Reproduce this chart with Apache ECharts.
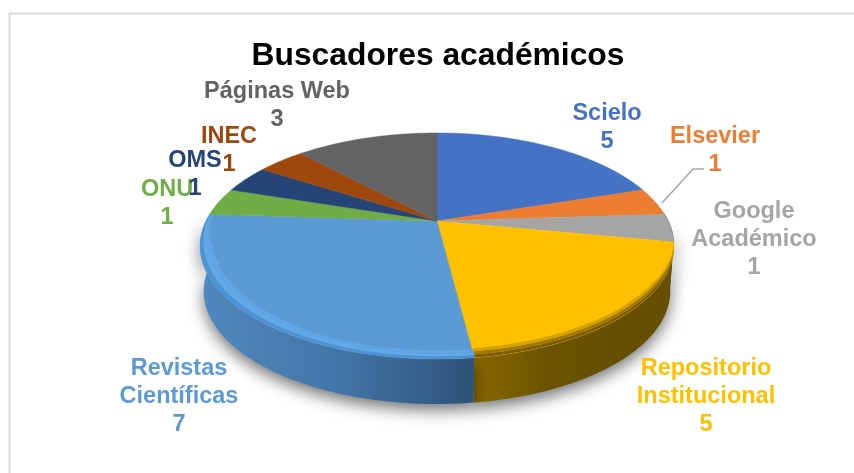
<!DOCTYPE html>
<html>
<head>
<meta charset="utf-8">
<script src="https://cdn.jsdelivr.net/npm/echarts@6/dist/echarts.min.js"></script>
<style>
  html, body { margin: 0; padding: 0; background: #fff; }
  #pie3d { width: 854px; height: 473px; }
</style>
</head>
<body>
<div id="pie3d"></div>
<script>
const chartTitle = "Buscadores académicos";
const names = ["Scielo", "Elsevier", "Google\nAcadémico", "Repositorio\nInstitucional", "Revistas\nCientíficas", "ONU", "OMS", "INEC", "Páginas Web"];
const values = [5, 1, 1, 5, 7, 1, 1, 1, 3];

const colors = ["#4472c4", "#ed7d31", "#a5a5a5", "#ffc000", "#5b9bd5", "#70ad47", "#264478", "#9e480e", "#636363"];
// label centres, excel put them by hand so no rule here
const labelSpots = [[607, 128], [715, 151], [754, 240], [706, 397], [179, 397], [167, 204], [195, 175], [229, 151], [277, 106]];
// side wall gradient, left to right
const wallColors = {
  2: ["#5a5a5a", "#5a5a5a"],
  3: ["#8a6800", "#6c5400", "#665000", "#665000"],
  4: ["#5088bf", "#4376a8", "#2e5279"],
};
// bands of the bevel on the front edge, outer to inner
const rimColors = {
  2: ["#5f6570", "#8b8c90"],
  3: ["#7a5c00", "#a07a00", "#d6a200"],
  4: ["#4f93d2", "#62a9ea", "#60a5e4"],
};

// flattened circle seen in perspective, back edge shorter than front edge
const cx = 437, cy = 221, sx = 231, sy = 107.5, persp = 0.221, depth = 45;
const total = values.reduce((a, b) => a + b, 0);

function project(deg) {
  const t = deg * Math.PI / 180;
  const d = 1 + persp * Math.cos(t);
  return [cx + sx * Math.sin(t) / d, cy - sy * Math.cos(t) / d];
}
function angles(from, to) {
  const list = [];
  const n = Math.max(2, Math.ceil(Math.abs(to - from)));
  for (let i = 0; i <= n; i++) list.push(from + (to - from) * i / n);
  return list;
}
function sliceRange(i) {
  const before = values.slice(0, i).reduce((a, b) => a + b, 0);
  return [before / total * 360, (before + values[i]) / total * 360];
}
// bevel fades out towards the back of the pie
function taper(deg) {
  const a = Math.min(1, Math.max(0, (deg - 75) / 50));
  const b = Math.min(1, Math.max(0, (285 - deg) / 35));
  return a * b;
}

function renderWall(params) {
  const i = params.dataIndex;
  const grad = wallColors[i];
  if (!grad) return;
  const r = sliceRange(i);
  const top = angles(Math.max(r[0], 92), Math.min(r[1], 272)).map(project);
  const base = top.map((p) => [cx + (p[0] - cx) * 0.985, p[1] + depth]).reverse();
  return {
    type: "polygon",
    shape: { points: top.concat(base) },
    style: {
      fill: new echarts.graphic.LinearGradient(0, 0, 1, 0, grad.map((c, k) => ({ offset: k / (grad.length - 1), color: c }))),
      shadowColor: "rgba(0,0,0,0.55)",
      shadowBlur: 16,
      shadowOffsetY: 6,
    },
  };
}

function renderTop(params) {
  const i = params.dataIndex;
  const r = sliceRange(i);
  const kids = [
    {
      type: "polygon",
      shape: { points: [[cx, cy]].concat(angles(r[0], r[1]).map(project)) },
      style: { fill: colors[i], stroke: colors[i], lineWidth: 0.5 },
    },
  ];
  const rim = rimColors[i];
  if (rim) {
    const degs = angles(Math.max(r[0], 75), Math.min(r[1], 285));
    const lean = i === 4 ? 1.6 : 0; // blue side has its bevel also on the left
    const step = i === 3 ? 3.2 : 2.8;
    rim.forEach((c, b) => {
      const band = (d) => degs.map((deg) => {
        const p = project(deg);
        const s = d * taper(deg);
        const side = Math.max(0, -Math.sin(deg * Math.PI / 180));
        return [p[0] + lean * side * s, p[1] - s];
      });
      kids.push({
        type: "polygon",
        shape: { points: band(b * step).concat(band((b + 1) * step).reverse()) },
        style: { fill: c },
      });
    });
  }
  return { type: "group", children: kids };
}

function renderLabel(params) {
  const i = params.dataIndex;
  return {
    type: "text",
    style: {
      x: labelSpots[i][0],
      y: labelSpots[i][1],
      text: names[i] + "\n" + values[i],
      align: "center",
      verticalAlign: "middle",
      fill: colors[i],
      font: "bold 23.5px 'Liberation Sans'",
      lineHeight: 28,
    },
  };
}

const myChart = echarts.init(document.getElementById("pie3d"), null, { renderer: "canvas" });
myChart.setOption({
  animation: false,
  backgroundColor: "#fff",
  title: {
    text: chartTitle,
    left: 433,
    top: 35,
    textAlign: "center",
    textStyle: { fontFamily: "Liberation Sans", fontSize: 31.8, fontWeight: "bold", color: "#000" },
  },
  graphic: [
    { type: "line", shape: { x1: 9.5, y1: 13, x2: 9.5, y2: 473 }, style: { stroke: "#d9d9d9", lineWidth: 2 } },
    { type: "line", shape: { x1: 9, y1: 13.5, x2: 854, y2: 13.5 }, style: { stroke: "#d9d9d9", lineWidth: 2 } },
    // leader line of Elsevier
    { type: "polyline", shape: { points: [[662, 203], [693, 169], [704, 169]] }, style: { stroke: "#a6a6a6", lineWidth: 1.5, fill: null } },
  ],
  series: [
    { type: "custom", coordinateSystem: "none", z: 1, data: values, renderItem: renderWall },
    { type: "custom", coordinateSystem: "none", z: 2, data: values, renderItem: renderTop },
    { type: "custom", coordinateSystem: "none", z: 3, data: values, renderItem: renderLabel },
  ],
});
</script>
</body>
</html>
